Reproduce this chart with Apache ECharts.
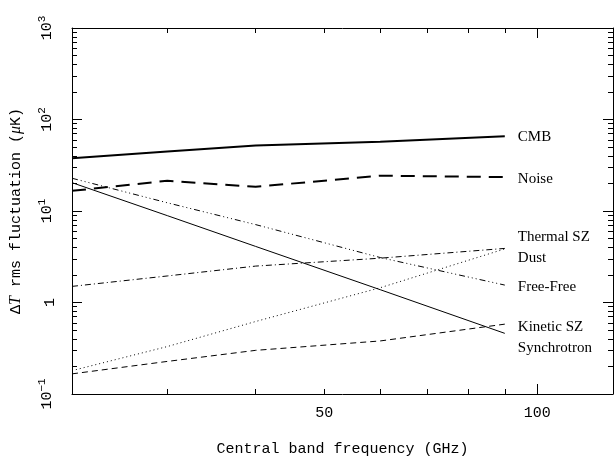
<!DOCTYPE html>
<html>
<head>
<meta charset="utf-8">
<script src="https://cdn.jsdelivr.net/npm/echarts@6/dist/echarts.min.js"></script>
<style>
  html, body { margin: 0; padding: 0; background: #fff; }
  #chart { width: 616px; height: 462px; }
</style>
</head>
<body>
<div id="chart"></div>
<script>
// band centres (GHz)
const freqs = [22, 30, 40, 60, 90]

// rms fluctuation per band (uK)
const cmb = [37.6, 44.8, 52, 57, 65.8]
const noise = [16.6, 21.4, 18.4, 24.3, 23.5]
const thermalSZ = [1.5, 1.95, 2.5, 3.05, 3.9]
const dust = [0.18, 0.33, 0.62, 1.45, 3.85]
const freeFree = [22.8, 12.3, 7.1, 3.1, 1.55]
const kineticSZ = [0.166, 0.227, 0.3, 0.38, 0.58]
const synchrotron = [20.4, 8.9, 4.1, 1.38, 0.46]

// ticks
const xMinorTicks = [30, 40, 50, 60, 70, 80, 90]
const xMajorTicks = [100]
const xLabels = [50, 100]
const yMajorTicks = [0.1, 1, 10, 100, 1000]
const yMinorTicks = [
    0.2, 0.3, 0.4, 0.5, 0.6, 0.7, 0.8, 0.9,
    2, 3, 4, 5, 6, 7, 8, 9,
    20, 30, 40, 50, 60, 70, 80, 90,
    200, 300, 400, 500, 600, 700, 800, 900,
]

const mono = 'Liberation Mono'
const serif = 'Liberation Serif'

const chart = echarts.init(document.getElementById('chart'))

const pair = (ys) => freqs.map((f, i) => [f, ys[i]])

const xBase = {
    type: 'log',
    logBase: 10,
    min: 22,
    max: 128,
    gridIndex: 0,
    splitLine: { show: false },
}
const yBase = {
    type: 'log',
    logBase: 10,
    min: 0.1,
    max: 1000,
    gridIndex: 0,
    splitLine: { show: false },
}
const axisLine = { show: true, onZero: false, lineStyle: { color: '#000', width: 1 } }
const noLine = { show: false }

const makeLine = (name, ys, width, dash, dy) => ({
    name,
    type: 'line',
    data: pair(ys),
    symbol: 'none',
    lineStyle: { color: '#000', width, type: dash },
    endLabel: {
        show: true,
        formatter: name,
        distance: 13,
        offset: [0, dy],
        fontFamily: serif,
        fontSize: 15,
        color: '#000',
    },
})

chart.setOption({
    animation: false,
    backgroundColor: '#fff',
    grid: { left: 70, right: 3, top: 28, bottom: 68 },
    xAxis: [
        {
            ...xBase,
            position: 'bottom',
            axisLine,
            axisTick: { show: true, inside: true, length: 5, customValues: xMinorTicks, lineStyle: { color: '#000' } },
            axisLabel: {
                show: true,
                customValues: xLabels,
                margin: 12,
                fontFamily: mono,
                fontSize: 15,
                color: '#000',
                formatter: (v) => String(Math.round(v)),
            },
            name: 'Central band frequency (GHz)',
            nameLocation: 'middle',
            nameGap: 48,
            nameTextStyle: { fontFamily: mono, fontSize: 15, color: '#000' },
        },
        {
            ...xBase,
            position: 'bottom',
            axisLine: noLine,
            axisTick: { show: true, inside: true, length: 10, customValues: xMajorTicks, lineStyle: { color: '#000' } },
            axisLabel: { show: false },
        },
        {
            ...xBase,
            position: 'top',
            axisLine,
            axisTick: { show: true, inside: true, length: 5, customValues: xMinorTicks, lineStyle: { color: '#000' } },
            axisLabel: { show: false },
        },
        {
            ...xBase,
            position: 'top',
            axisLine: noLine,
            axisTick: { show: true, inside: true, length: 10, customValues: xMajorTicks, lineStyle: { color: '#000' } },
            axisLabel: { show: false },
        },
    ],
    yAxis: [
        {
            ...yBase,
            position: 'left',
            axisLine,
            axisTick: { show: true, inside: true, length: 10, customValues: yMajorTicks, lineStyle: { color: '#000' } },
            axisLabel: {
                show: true,
                customValues: yMajorTicks,
                rotate: 90,
                margin: 14,
                color: '#000',
                formatter: (v) => {
                    const e = Math.round(Math.log10(v))
                    if (e === 0) return '{b|1}'
                    return '{b|10}{s|' + (e < 0 ? '\u2212' + (-e) : e) + '}'
                },
                rich: {
                    b: { fontFamily: mono, fontSize: 15, color: '#000' },
                    s: { fontFamily: mono, fontSize: 11, color: '#000', padding: [0, 0, 10, 0] },
                },
            },
            name: '{n|\u0394}{i|T}{n| rms fluctuation (}{i|\u03bc}{n|K)}',
            nameLocation: 'middle',
            nameRotate: 90,
            nameGap: 48,
            nameTextStyle: {
                rich: {
                    n: { fontFamily: mono, fontSize: 15, color: '#000' },
                    i: { fontFamily: serif, fontStyle: 'italic', fontSize: 16, color: '#000' },
                },
            },
        },
        {
            ...yBase,
            position: 'left',
            axisLine: noLine,
            axisTick: { show: true, inside: true, length: 5, customValues: yMinorTicks, lineStyle: { color: '#000' } },
            axisLabel: { show: false },
        },
        {
            ...yBase,
            position: 'right',
            axisLine,
            axisTick: { show: true, inside: true, length: 10, customValues: yMajorTicks, lineStyle: { color: '#000' } },
            axisLabel: { show: false },
        },
        {
            ...yBase,
            position: 'right',
            axisLine: noLine,
            axisTick: { show: true, inside: true, length: 5, customValues: yMinorTicks, lineStyle: { color: '#000' } },
            axisLabel: { show: false },
        },
    ],
    series: [
        makeLine('CMB', cmb, 2, 'solid', 1),
        makeLine('Noise', noise, 2, [14, 8], 2),
        makeLine('Thermal SZ', thermalSZ, 1, [6, 3, 1, 3], -11),
        makeLine('Dust', dust, 1, [1, 3], 9),
        makeLine('Free-Free', freeFree, 1, [6, 3, 1, 3, 1, 3, 1, 3], 2),
        makeLine('Kinetic SZ', kineticSZ, 1, [6, 4], 3),
        makeLine('Synchrotron', synchrotron, 1, 'solid', 15),
    ],
})

window.addEventListener('resize', () => chart.resize())
</script>
</body>
</html>
